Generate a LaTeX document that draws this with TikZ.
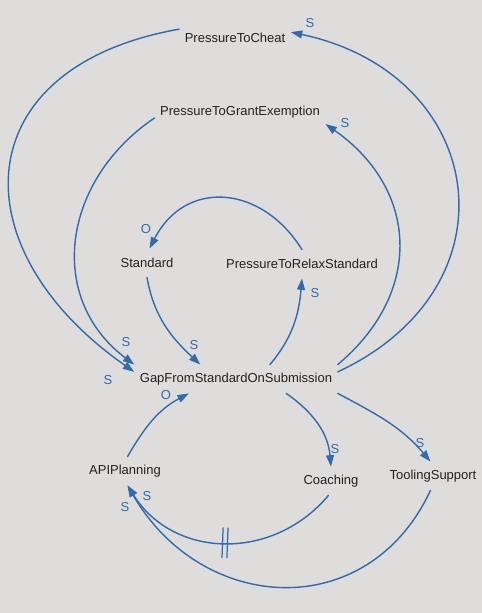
\documentclass[tikz,border=0pt]{standalone}
\usepackage{fontspec}
\setmainfont{Liberation Sans}
\usetikzlibrary{arrows.meta,decorations.markings}
\definecolor{linkblue}{HTML}{2F6CAD}
\definecolor{paper}{HTML}{DFDDDB}
\definecolor{ink}{HTML}{222222}
\tikzset{
  var/.style={text=ink, inner xsep=3pt, minimum height=16pt},
  link/.style={->, color=linkblue, line width=0.8pt},
  pol/.style={text=linkblue, inner sep=0pt},
  delay/.style={postaction={decorate, decoration={markings,
    mark=at position .5 with {\draw[-,line width=0.7pt] (-1.4pt,-8.5pt)--(-1.4pt,8.5pt) (1.4pt,-8.5pt)--(1.4pt,8.5pt);}}}}
}
\begin{document}
\begin{tikzpicture}[x=0.02cm,y=0.02cm,>={Triangle[length=6.5pt,width=4.5pt]}, font=\fontsize{7.4}{9}\selectfont, line join=round, line cap=round]
\fill[paper] (0,0) rectangle (482,613);
\useasboundingbox (0,0) rectangle (482,613);
% variables
\node[var] (cheat) at (235,575) {PressureToCheat};
\node[var] (grant) at (240,501) {PressureToGrantExemption};
\node[var] (standard) at (147,350) {Standard};
\node[var] (relax) at (302,349) {PressureToRelaxStandard};
\node[var] (gap) at (236,234) {GapFromStandardOnSubmission};
\node[var] (api) at (125,142) {APIPlanning};
\node[var] (coaching) at (331,132) {Coaching};
\node[var] (tooling) at (433,137) {ToolingSupport};
% links
\draw[link] (gap.4) to[out=25,in=-12,looseness=1.5] (cheat.6);
\draw[link] (cheat.171) to[out=190,in=145,looseness=1.6] (gap.176);
\draw[link] (gap.north east) to[out=40,in=-35,looseness=1.2] (grant.-8);
\draw[link] (grant.184) to[out=214,in=143,looseness=1.15] (gap.north west);
\draw[link] (gap.23) to[out=50,in=-95] (relax.south);
\draw[link] (relax.north) to[out=122,in=63,looseness=1.3] (standard.80);
\draw[link] (standard.south) to[out=-80,in=137] (gap.158);
\draw[link] (api.80) to[out=60,in=208] (gap.197);
\draw[link] (gap.-16) to[out=-35,in=95] (coaching.north);
\draw[link] (gap.south east) to[out=-28,in=130] (tooling.100);
\draw[link,delay] (coaching.-100) to[out=230,in=-58,looseness=1.1] (api.-80);
\draw[link] (tooling.-100) to[out=245,in=-60,looseness=1.25] (api.-80);
% polarities
\node[pol] at (310,590) {S};
\node[pol] at (108,233) {S};
\node[pol] at (345,490) {S};
\node[pol] at (126,271) {S};
\node[pol] at (315,320) {S};
\node[pol] at (146,384) {O};
\node[pol] at (194,268) {S};
\node[pol] at (166,218) {O};
\node[pol] at (335,164) {S};
\node[pol] at (420,170) {S};
\node[pol] at (147,117) {S};
\node[pol] at (125,106) {S};
\end{tikzpicture}
\end{document}
